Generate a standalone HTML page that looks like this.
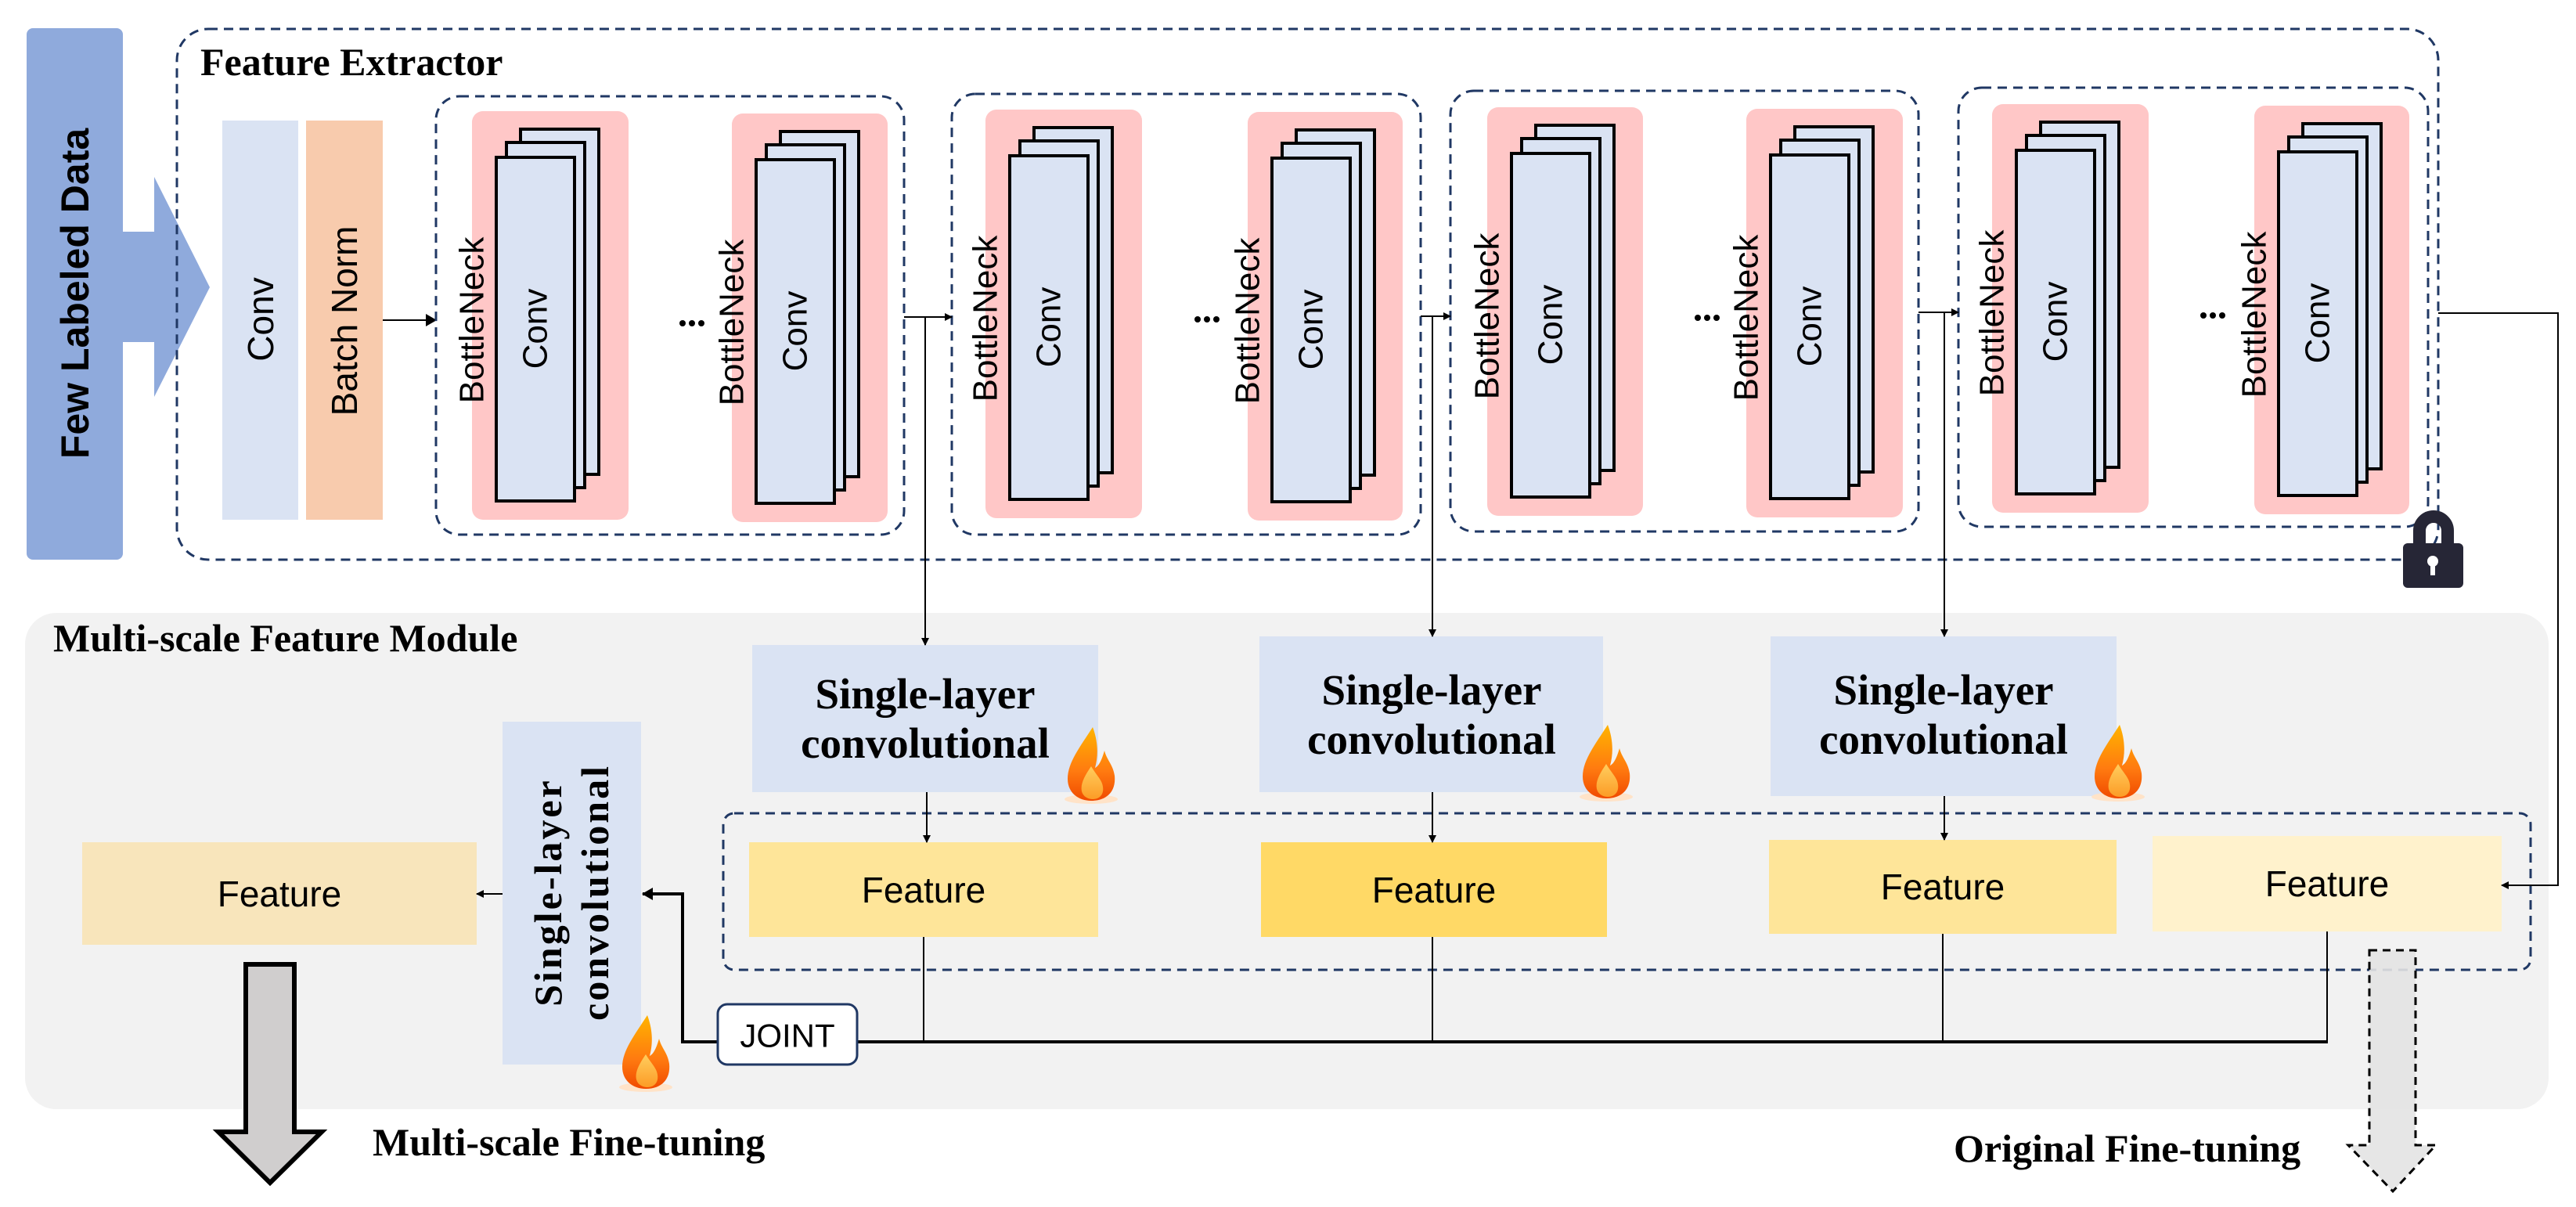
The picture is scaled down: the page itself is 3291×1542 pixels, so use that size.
<!DOCTYPE html>
<html><head><meta charset="utf-8"><style>
html,body{margin:0;padding:0;background:#fff}
svg{display:block}
.s{font-family:"Liberation Sans",sans-serif}
.t{font-family:"Liberation Serif",serif;font-weight:bold}
</style></head><body>
<svg width="3291" height="1542" viewBox="0 0 3291 1542" xmlns="http://www.w3.org/2000/svg">
<defs>
<linearGradient id="fl" x1="0" y1="0" x2="0" y2="1">
<stop offset="0" stop-color="#ffb400"/><stop offset="0.6" stop-color="#ff7a10"/><stop offset="1" stop-color="#f04a00"/>
</linearGradient>
<linearGradient id="fl2" x1="0" y1="0" x2="0" y2="1">
<stop offset="0" stop-color="#ffe070"/><stop offset="1" stop-color="#ffb030"/>
</linearGradient>
<marker id="ah" markerWidth="10" markerHeight="10" refX="9" refY="5" orient="auto" markerUnits="userSpaceOnUse"><path d="M0,0 L10,5 L0,10 z" fill="#000"/></marker>
<marker id="ah2" markerWidth="14" markerHeight="16" refX="13" refY="8" orient="auto" markerUnits="userSpaceOnUse"><path d="M0,0 L14,8 L0,16 z" fill="#000"/></marker>
<g id="flame">
<ellipse cx="36" cy="92" rx="34" ry="6" fill="#ffe3c8"/>
<path d="M38,0 C22,25 6,45 6,66 C6,84 20,94 36,94 C56,94 68,82 66,62 C64,48 56,42 53,30 C49,44 45,50 41,52 C46,34 44,16 38,0 Z" fill="url(#fl)"/>
<path d="M36,50 C28,62 22,72 24,82 C26,90 34,92 38,92 C48,92 54,84 50,72 C48,66 42,60 36,50 Z" fill="url(#fl2)" opacity="0.8"/>
</g>
</defs>

<!-- Few labeled data arrow -->
<rect x="34" y="36" width="123" height="679" rx="8" fill="#8faadc"/>
<path d="M157,296 L197,296 L197,226 L268,367 L197,507 L197,437 L157,437 Z" fill="#8faadc"/>
<text class="s" font-weight="bold" font-size="50" transform="translate(96,375) rotate(-90)" text-anchor="middle" dominant-baseline="central">Few Labeled Data</text>

<!-- Feature extractor outer -->
<rect x="226" y="37" width="2889" height="678" rx="40" fill="none" stroke="#203864" stroke-width="3" stroke-dasharray="12,8"/>
<text class="t" font-size="50" x="256" y="96">Feature Extractor</text>

<rect x="284" y="154" width="97" height="510" fill="#dae3f3"/>
<text class="s" font-size="46" transform="translate(333,408) rotate(-90)" text-anchor="middle" dominant-baseline="central">Conv</text>
<rect x="391" y="154" width="98" height="510" fill="#f8cbad"/>
<text class="s" font-size="46" transform="translate(440,410) rotate(-90)" text-anchor="middle" dominant-baseline="central">Batch Norm</text>
<line x1="489" y1="409" x2="557" y2="409" stroke="#000" stroke-width="2" marker-end="url(#ah2)"/>

<!-- groups -->
<g fill="none" stroke="#203864" stroke-width="3" stroke-dasharray="12,8">
<rect x="557" y="123" width="598" height="560" rx="30"/>
<rect x="1216" y="120" width="599" height="563" rx="30"/>
<rect x="1853" y="116" width="598" height="563" rx="30"/>
<rect x="2502" y="112" width="600" height="561" rx="30"/>
</g>

<g fill="#ffc7c7">
<rect x="603" y="142" width="200" height="522" rx="14"/>
<rect x="935" y="145" width="199" height="522" rx="14"/>
<rect x="1259" y="140" width="200" height="522" rx="14"/>
<rect x="1594" y="143" width="198" height="522" rx="14"/>
<rect x="1900" y="137" width="199" height="522" rx="14"/>
<rect x="2231" y="139" width="200" height="522" rx="14"/>
<rect x="2545" y="133" width="200" height="522" rx="14"/>
<rect x="2880" y="135" width="198" height="522" rx="14"/>
</g>

<g fill="#dae3f3" stroke="#000" stroke-width="4">
<rect x="665" y="165" width="100" height="441"/><rect x="647" y="182" width="100" height="441"/><rect x="634" y="201" width="100" height="439"/>
<rect x="997" y="168" width="100" height="441"/><rect x="979" y="185" width="100" height="441"/><rect x="966" y="204" width="100" height="439"/>
<rect x="1321" y="163" width="100" height="441"/><rect x="1303" y="180" width="100" height="441"/><rect x="1290" y="199" width="100" height="439"/>
<rect x="1656" y="166" width="100" height="441"/><rect x="1638" y="183" width="100" height="441"/><rect x="1625" y="202" width="100" height="439"/>
<rect x="1962" y="160" width="100" height="441"/><rect x="1944" y="177" width="100" height="441"/><rect x="1931" y="196" width="100" height="439"/>
<rect x="2293" y="162" width="100" height="441"/><rect x="2275" y="179" width="100" height="441"/><rect x="2262" y="198" width="100" height="439"/>
<rect x="2607" y="156" width="100" height="441"/><rect x="2589" y="173" width="100" height="441"/><rect x="2576" y="192" width="100" height="439"/>
<rect x="2942" y="158" width="100" height="441"/><rect x="2924" y="175" width="100" height="441"/><rect x="2911" y="194" width="100" height="439"/>
</g>

<g class="s" font-size="44" text-anchor="middle" dominant-baseline="central">
<text transform="translate(603,409) rotate(-90)">BottleNeck</text><text transform="translate(684,420) rotate(-90)">Conv</text>
<text transform="translate(935,412) rotate(-90)">BottleNeck</text><text transform="translate(1016,423) rotate(-90)">Conv</text>
<text transform="translate(1259,407) rotate(-90)">BottleNeck</text><text transform="translate(1340,418) rotate(-90)">Conv</text>
<text transform="translate(1594,410) rotate(-90)">BottleNeck</text><text transform="translate(1675,421) rotate(-90)">Conv</text>
<text transform="translate(1900,404) rotate(-90)">BottleNeck</text><text transform="translate(1981,415) rotate(-90)">Conv</text>
<text transform="translate(2231,406) rotate(-90)">BottleNeck</text><text transform="translate(2312,417) rotate(-90)">Conv</text>
<text transform="translate(2545,400) rotate(-90)">BottleNeck</text><text transform="translate(2626,411) rotate(-90)">Conv</text>
<text transform="translate(2880,402) rotate(-90)">BottleNeck</text><text transform="translate(2961,413) rotate(-90)">Conv</text>
</g>

<g fill="#000">
<circle cx="872" cy="413" r="4"/><circle cx="884" cy="413" r="4"/><circle cx="896" cy="413" r="4"/>
<circle cx="1530" cy="408" r="4"/><circle cx="1542" cy="408" r="4"/><circle cx="1554" cy="408" r="4"/>
<circle cx="2169" cy="406" r="4"/><circle cx="2181" cy="406" r="4"/><circle cx="2193" cy="406" r="4"/>
<circle cx="2815" cy="403" r="4"/><circle cx="2827" cy="403" r="4"/><circle cx="2839" cy="403" r="4"/>
</g>

<!-- lock -->
<path d="M3091,694 L3091,678 A18,18 0 0 1 3127,678 L3127,694" fill="none" stroke="#262636" stroke-width="16"/>
<rect x="3070" y="694" width="77" height="57" rx="6" fill="#262636"/>
<circle cx="3108" cy="717" r="7" fill="#fff"/><rect x="3105" y="717" width="6" height="18" fill="#fff"/>

<!-- multi-scale module -->
<rect x="32" y="783" width="3224" height="634" rx="40" fill="#f2f2f2"/>
<text class="t" font-size="50" x="68" y="832">Multi-scale Feature Module</text>

<rect x="924" y="1039" width="2309" height="200" rx="14" fill="none" stroke="#203864" stroke-width="3" stroke-dasharray="12,8"/>

<g fill="#dae3f3">
<rect x="961" y="824" width="442" height="188"/>
<rect x="1609" y="813" width="439" height="199"/>
<rect x="2262" y="813" width="442" height="204"/>
<rect x="642" y="922" width="177" height="438"/>
</g>
<g class="t" font-size="55" text-anchor="middle">
<text x="1182" y="905">Single-layer</text><text x="1182" y="968">convolutional</text>
<text x="1829" y="900">Single-layer</text><text x="1829" y="963">convolutional</text>
<text x="2483" y="900">Single-layer</text><text x="2483" y="963">convolutional</text>
</g>
<g class="t" font-size="50" text-anchor="middle" letter-spacing="3" dominant-baseline="central">
<text transform="translate(700,1140) rotate(-90)">Single-layer</text>
<text transform="translate(760,1140) rotate(-90)">convolutional</text>
</g>

<use href="#flame" x="1358" y="929"/>
<use href="#flame" x="2016" y="926"/>
<use href="#flame" x="2670" y="926"/>
<use href="#flame" x="789" y="1297"/>

<rect x="105" y="1076" width="504" height="131" fill="#f8e5bb"/>
<rect x="957" y="1076" width="446" height="121" fill="#fee599"/>
<rect x="1611" y="1076" width="442" height="121" fill="#ffd966"/>
<rect x="2260" y="1073" width="444" height="120" fill="#fee599"/>
<rect x="2750" y="1068" width="446" height="122" fill="#fff2cc"/>
<g class="s" font-size="46" text-anchor="middle" dominant-baseline="central">
<text x="357" y="1142">Feature</text>
<text x="1180" y="1137">Feature</text>
<text x="1832" y="1137">Feature</text>
<text x="2482" y="1133">Feature</text>
<text x="2973" y="1129">Feature</text>
</g>

<!-- connectors -->
<g stroke="#000" stroke-width="2" fill="none">
<line x1="1155" y1="405" x2="1216" y2="405" marker-end="url(#ah)"/>
<polyline points="1182,405 1182,824" marker-end="url(#ah)"/>
<line x1="1815" y1="404" x2="1853" y2="404" marker-end="url(#ah)"/>
<polyline points="1830,404 1830,813" marker-end="url(#ah)"/>
<line x1="2451" y1="399" x2="2502" y2="399" marker-end="url(#ah)"/>
<polyline points="2484,399 2484,813" marker-end="url(#ah)"/>
<polyline points="3115,400 3268,400 3268,1131 3196,1131" marker-end="url(#ah)"/>
<line x1="1184" y1="1012" x2="1184" y2="1076" marker-end="url(#ah)"/>
<line x1="1830" y1="1012" x2="1830" y2="1076" marker-end="url(#ah)"/>
<line x1="2484" y1="1017" x2="2484" y2="1073" marker-end="url(#ah)"/>
<line x1="1180" y1="1197" x2="1180" y2="1331"/>
<line x1="1830" y1="1197" x2="1830" y2="1331"/>
<line x1="2482" y1="1193" x2="2482" y2="1331"/>
<line x1="2973" y1="1190" x2="2973" y2="1331"/>
<line x1="642" y1="1142" x2="609" y2="1142" marker-end="url(#ah)"/>
</g>
<line x1="1095" y1="1331" x2="2974" y2="1331" stroke="#000" stroke-width="4"/>
<polyline points="917,1331 872,1331 872,1142 821,1142" stroke="#000" stroke-width="4" fill="none" marker-end="url(#ah2)"/>
<rect x="917" y="1283" width="178" height="77" rx="12" fill="#fff" stroke="#203864" stroke-width="3"/>
<text class="s" font-size="42" x="1006" y="1323" text-anchor="middle" dominant-baseline="central">JOINT</text>

<!-- fine-tuning arrows -->
<path d="M314,1232 L376,1232 L376,1446 L411,1446 L345,1511 L279,1446 L314,1446 Z" fill="#d0cece" stroke="#000" stroke-width="6"/>
<text class="t" font-size="50" x="476" y="1476">Multi-scale Fine-tuning</text>
<path d="M3027,1214 L3086,1214 L3086,1463 L3112,1463 L3057,1522 L3000,1463 L3027,1463 Z" fill="#e3e3e3" fill-opacity="0.9" stroke="#000" stroke-width="3" stroke-dasharray="10,7"/>
<text class="t" font-size="50" x="2496" y="1484">Original Fine-tuning</text>
</svg>
</body></html>
